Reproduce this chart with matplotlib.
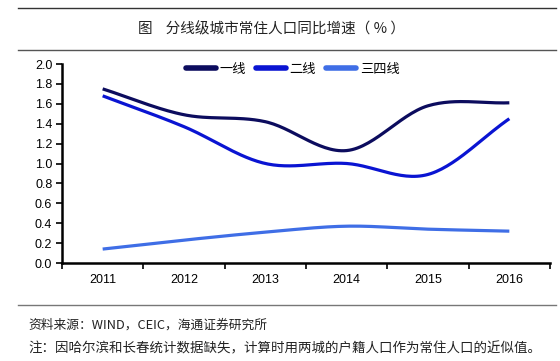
import numpy as np
import matplotlib
matplotlib.use("Agg")
import matplotlib.pyplot as plt
from matplotlib.lines import Line2D

plt.rcParams['font.family'] = ['Noto Sans CJK SC', 'DejaVu Sans']

years = ['2011', '2012', '2013', '2014', '2015', '2016']
tier1 = [1.75, 1.49, 1.42, 1.13, 1.58, 1.61]
tier2 = [1.68, 1.37, 1.00, 1.00, 0.89, 1.45]
tier34 = [0.14, 0.23, 0.31, 0.37, 0.34, 0.32]
series_names = ['一线', '二线', '三四线']
colors = ['#0c0c5e', '#0a14d2', '#3f6ee6']
yticks = [0.0, 0.2, 0.4, 0.6, 0.8, 1.0, 1.2, 1.4, 1.6, 1.8, 2.0]

title = '图    分线级城市常住人口同比增速（ % ）'
source = '资料来源：WIND，CEIC，海通证券研究所'
note = '注：因哈尔滨和长春统计数据缺失，计算时用两城的户籍人口作为常住人口的近似值。'


def smooth(xs, ys, n=30):
    # Catmull-Rom style smoothing (like spreadsheet smoothed lines) for drawing
    xs = np.asarray(xs, float)
    ys = np.asarray(ys, float)
    px = np.concatenate([[2 * xs[0] - xs[1]], xs, [2 * xs[-1] - xs[-2]]])
    py = np.concatenate([[2 * ys[0] - ys[1]], ys, [2 * ys[-1] - ys[-2]]])
    ox, oy = [], []
    for i in range(1, len(px) - 2):
        t = np.linspace(0, 1, n, endpoint=False)
        for arr, out in ((px, ox), (py, oy)):
            p0, p1, p2, p3 = arr[i - 1], arr[i], arr[i + 1], arr[i + 2]
            out.extend(0.5 * ((2 * p1) + (-p0 + p2) * t
                              + (2 * p0 - 5 * p1 + 4 * p2 - p3) * t ** 2
                              + (-p0 + 3 * p1 - 3 * p2 + p3) * t ** 3))
    ox.append(xs[-1]); oy.append(ys[-1])
    return np.array(ox), np.array(oy)


fig = plt.figure(figsize=(5.6, 3.61), dpi=100)
W, H = 560, 361
ax = fig.add_axes([62 / W, (H - 263) / H, (550 - 62) / W, (263 - 64) / H])

x = np.arange(len(years))
for vals, c, name in zip([tier1, tier2, tier34], colors, series_names):
    sx, sy = smooth(x, vals)
    ax.plot(sx, sy, color=c, lw=2.3, solid_capstyle='butt', label=name)

ax.set_xlim(-0.5, len(years) - 0.5)
ax.set_ylim(0, 2.0)
ax.set_yticks(yticks)
ax.set_yticklabels([f'{v:.1f}' for v in yticks], family=['Liberation Sans', 'DejaVu Sans'], fontsize=9)
ax.set_xticks(x)
ax.set_xticklabels(years, family=['Liberation Sans', 'DejaVu Sans'], fontsize=9)
ax.set_xticks(np.arange(-0.5, len(years)), minor=True)
ax.tick_params(axis='x', which='major', length=0, pad=8)
ax.tick_params(axis='x', which='minor', length=4, width=1.2, direction='out')
ax.tick_params(axis='y', length=4, width=1.2, direction='out', pad=3)
for s in ['top', 'right']:
    ax.spines[s].set_visible(False)
for s in ['left', 'bottom']:
    ax.spines[s].set_linewidth(1.8)
    ax.spines[s].set_color('black')

handles = [Line2D([0], [0], color=c, lw=4, solid_capstyle='round') for c in colors]
leg = ax.legend(handles, series_names, loc='center left',
                bbox_to_anchor=((186 - 62) / (550 - 62), 1 - (69 - 64) / (263 - 64)),
                ncol=3, frameon=False, fontsize=9.5, handlelength=2.3, handletextpad=0.25,
                columnspacing=0.75, borderaxespad=0, borderpad=0)

# header/footer decorations
fig.add_artist(Line2D([18 / W, 556 / W], [(H - 8) / H, (H - 8) / H], color='#333333', lw=1.0))
fig.add_artist(Line2D([18 / W, 556 / W], [(H - 50) / H, (H - 50) / H], color='#555555', lw=1.0))
fig.add_artist(Line2D([18 / W, 556 / W], [(H - 305) / H, (H - 305) / H], color='#777777', lw=1.0))
fig.text(272 / W, (H - 29) / H, title, ha='center', va='center', fontsize=10.5, color='#222222')
fig.text(28 / W, (H - 325) / H, source, ha='left', va='center', fontsize=9.2, color='#222222')
fig.text(28 / W, (H - 348) / H, note, ha='left', va='center', fontsize=9.7, color='#222222')

fig.savefig('out.png', dpi=100)
